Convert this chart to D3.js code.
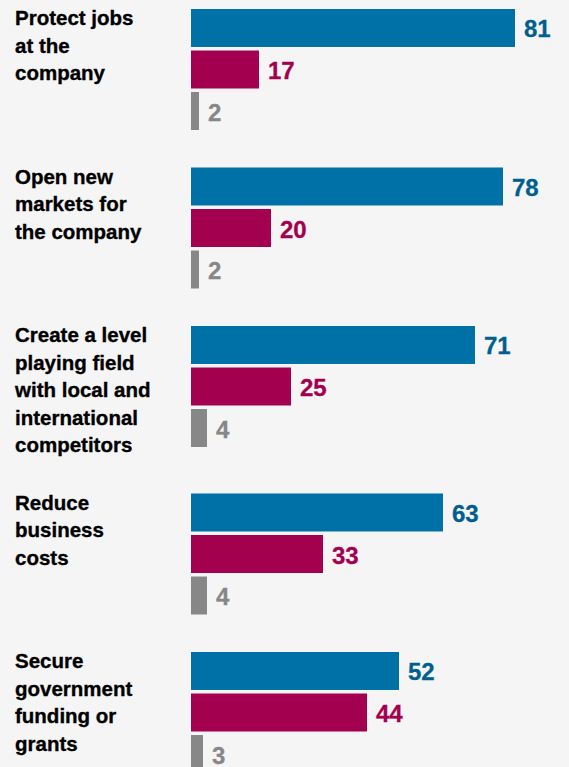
<!DOCTYPE html>
<html>
<head>
<meta charset="utf-8">
<script src="https://cdn.jsdelivr.net/npm/d3@7"></script>
<style>
  html, body { margin: 0; padding: 0; background: #f5f5f5; }
  svg { display: block; }
</style>
</head>
<body>
<svg id="chart" width="569" height="767"></svg>
<script>
// Category labels, one entry per wrapped line
const categories = [
  ["Protect jobs", "at the", "company"],
  ["Open new", "markets for", "the company"],
  ["Create a level", "playing field", "with local and", "international", "competitors"],
  ["Reduce", "business", "costs"],
  ["Secure", "government", "funding or", "grants"]
];
// Percentages for the three series, in category order
const topValues = [81, 78, 71, 63, 52];
const middleValues = [17, 20, 25, 33, 44];
const bottomValues = [2, 2, 4, 4, 3];

const series = [
  { values: topValues, fill: "#0071a7", text: "#005f90" },
  { values: middleValues, fill: "#a3004f", text: "#a3004f" },
  { values: bottomValues, fill: "#878787", text: "#878787" }
];

const svg = d3.select("#chart");

const x = d3.scaleLinear().domain([0, 100]).range([191, 591]);

const blockH = 121;      // height of the three stacked bars
const lineH = 27.5;      // label line spacing
const groupGap = 37.5;   // space between groups

// Per-bar vertical positions inside a group
const inner = d3.scaleBand().domain([0, 1, 2]).range([0, blockH])
  .paddingInner(0.085).paddingOuter(0);

// Group tops accumulate from each group's content height
const tops = [];
let cursor = 9;
categories.forEach(lines => {
  tops.push(cursor);
  const content = Math.max(blockH, (lines.length - 1) * lineH + 20);
  cursor += content + groupGap;
});

const groups = svg.selectAll("g.group")
  .data(categories)
  .join("g")
  .attr("class", "group")
  .attr("transform", (d, i) => `translate(0,${tops[i]})`);

// Category labels
groups.append("text")
  .attr("x", 15)
  .attr("y", 16)
  .attr("font-family", "'Liberation Sans', Arial, sans-serif")
  .attr("font-weight", "bold")
  .attr("font-size", 20.5)
  .attr("fill", "#000")
  .attr("stroke", "#000")
  .attr("stroke-width", 0.35)
  .selectAll("tspan")
  .data(d => d)
  .join("tspan")
  .attr("x", 15)
  .attr("dy", (d, i) => i === 0 ? 0 : lineH)
  .text(d => d);

// Bars and value labels
groups.each(function (cat, ci) {
  const g = d3.select(this);
  series.forEach((s, si) => {
    const v = s.values[ci];
    g.append("rect")
      .attr("x", x(0))
      .attr("y", inner(si))
      .attr("width", x(v) - x(0))
      .attr("height", inner.bandwidth())
      .attr("fill", s.fill);
    g.append("text")
      .attr("x", x(v) + 9)
      .attr("y", inner(si) + inner.bandwidth() / 2 + 9.5)
      .attr("font-family", "'Liberation Sans', Arial, sans-serif")
      .attr("font-weight", "bold")
      .attr("font-size", 24)
      .attr("fill", s.text)
      .attr("stroke", s.text)
      .attr("stroke-width", 0.3)
      .text(v);
  });
});
</script>
</body>
</html>
